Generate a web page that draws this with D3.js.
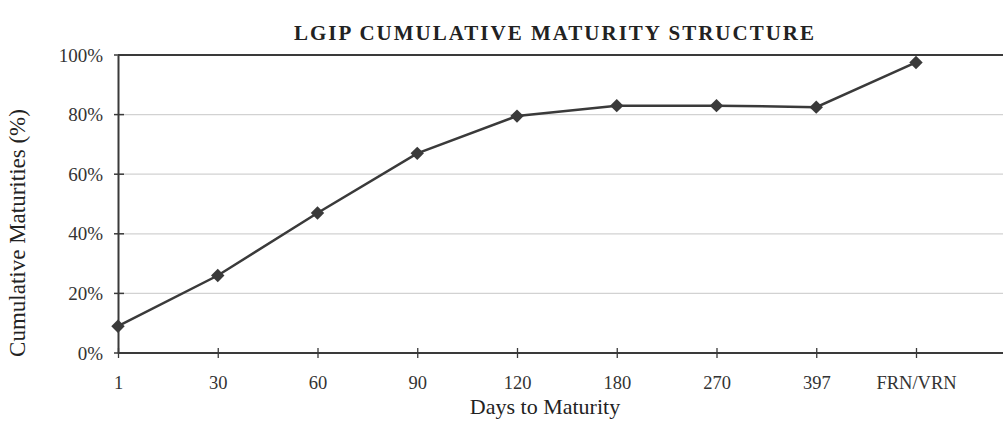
<!DOCTYPE html>
<html><head><meta charset="utf-8">
<script src="https://cdn.jsdelivr.net/npm/d3@7"></script>
<style>body{margin:0;background:#fff}svg{display:block}</style>
</head><body>
<svg id="c" width="1003" height="424"></svg>
<script>
const categories = ["1","30","60","90","120","180","270","397","FRN/VRN"];
const cumulative = [9, 26, 47, 67, 79.5, 83, 83, 82.5, 97.5];
const yTicks = [0, 20, 40, 60, 80, 100];
const titleText = "LGIP CUMULATIVE MATURITY STRUCTURE";
const xTitle = "Days to Maturity";
const yTitle = "Cumulative Maturities (%)";

(function () {
const svg = d3.select("#c");
const W = 1003;
const mLeft = 118, mTop = 55, mBottom = 353;
const ink = "#3a3a3a";
const font = "'Liberation Serif', 'DejaVu Serif', serif";

const x = d3.scaleLinear().domain([0, categories.length - 1]).range([mLeft, 916]);
const y = d3.scaleLinear().domain([0, 100]).range([mBottom, mTop]);

// faint gridlines
svg.append("g").selectAll("line").data(yTicks.filter(t => t > 0 && t < 100)).join("line")
  .attr("x1", mLeft).attr("x2", W).attr("y1", d => y(d)).attr("y2", d => y(d))
  .attr("stroke", "#d2d2d2").attr("stroke-width", 1.2);
// line at 100%
svg.append("line").attr("x1", mLeft).attr("x2", W).attr("y1", y(100)).attr("y2", y(100))
  .attr("stroke", ink).attr("stroke-width", 2);

// y axis
const yAxis = d3.axisLeft(y).tickValues(yTicks).tickFormat(d => d + "%").tickSize(0).tickPadding(15);
const gy = svg.append("g").attr("transform", `translate(${mLeft},0)`).call(yAxis);
gy.select(".domain").attr("stroke", ink).attr("stroke-width", 2);
gy.selectAll("text").attr("font-family", font).attr("font-size", 19).attr("fill", "#333");
svg.append("g").selectAll("line").data(yTicks).join("line")
  .attr("x1", mLeft - 4).attr("x2", mLeft + 6).attr("y1", d => y(d)).attr("y2", d => y(d))
  .attr("stroke", ink).attr("stroke-width", 1.5);

// x axis
const xIdx = d3.range(categories.length + 1);
const xAxis = d3.axisBottom(x).tickValues(xIdx).tickFormat(i => categories[i] || "").tickSize(6).tickPadding(17);
const gx = svg.append("g").attr("transform", `translate(0,${mBottom})`).call(xAxis);
gx.select(".domain").remove();
gx.append("line").attr("x1", mLeft).attr("x2", W).attr("y1", 0).attr("y2", 0).attr("stroke", ink).attr("stroke-width", 2);
gx.selectAll(".tick line").attr("stroke", ink).attr("stroke-width", 1.3).attr("y1", -5).attr("y2", 5);
gx.selectAll("text").attr("font-family", font).attr("font-size", 18.5).attr("fill", "#333");

// line
const line = d3.line().x((d, i) => x(i)).y(d => y(d));
svg.append("path").datum(cumulative).attr("d", line)
  .attr("fill", "none").attr("stroke", ink).attr("stroke-width", 2.5);
svg.append("g").selectAll("path").data(cumulative).join("path")
  .attr("d", d3.symbol(d3.symbolSquare, 90))
  .attr("transform", (d, i) => `translate(${x(i)},${y(d)}) rotate(45)`)
  .attr("fill", ink);

// titles
svg.append("text").attr("x", 555).attr("y", 40).attr("text-anchor", "middle")
  .attr("font-family", font).attr("font-weight", "bold").attr("font-size", 21)
  .attr("letter-spacing", 2).attr("fill", "#222").text(titleText);
svg.append("text").attr("x", 545).attr("y", 414).attr("text-anchor", "middle")
  .attr("font-family", font).attr("font-size", 22).attr("fill", "#222").text(xTitle);
svg.append("text").attr("transform", "translate(25,233) rotate(-90)").attr("text-anchor", "middle")
  .attr("font-family", font).attr("font-size", 23).attr("fill", "#222").text(yTitle);
})();
</script>
</body></html>
